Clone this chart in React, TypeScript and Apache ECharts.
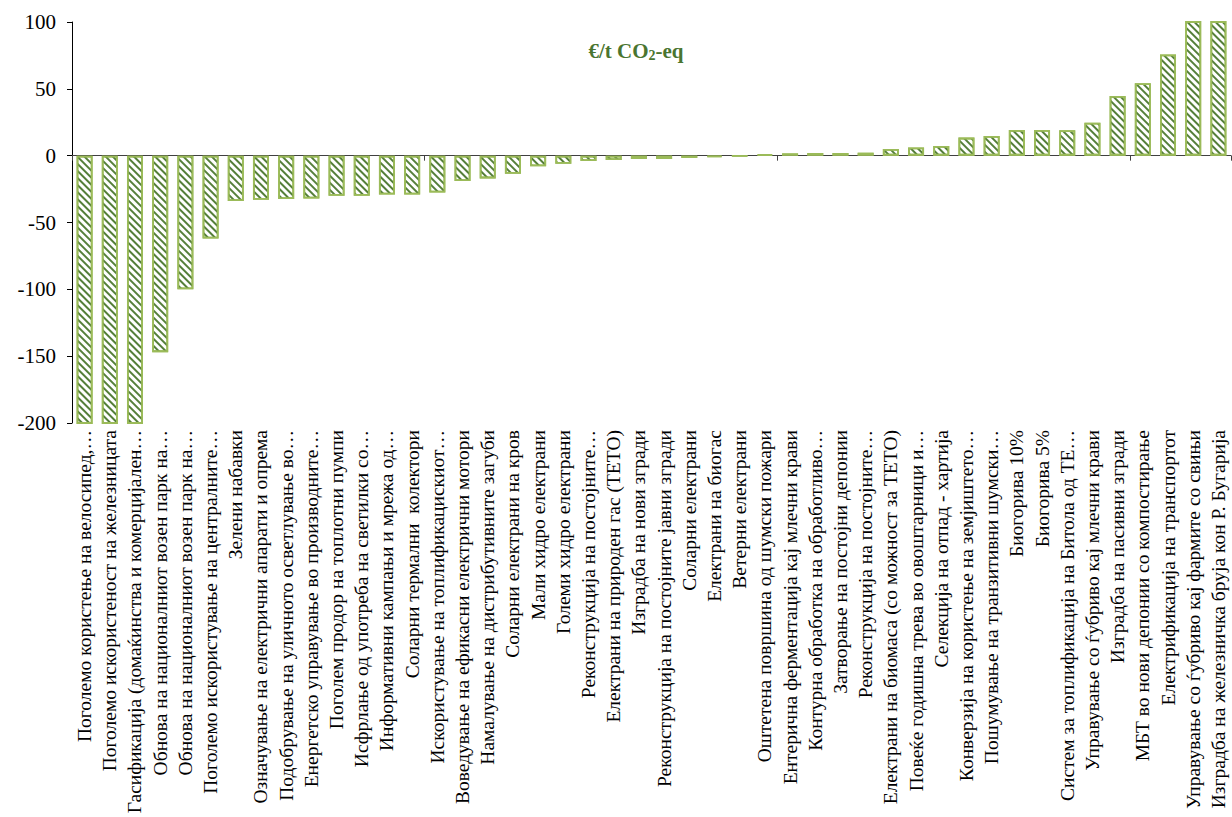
import React, { useEffect, useRef } from "react";
import * as echarts from "echarts";

const categories: string[] = [
  "Поголемо користење на велосипед,…",
  "Поголемо искористеност на железницата",
  "Гасификација (домаќинства и комерцијален…",
  "Обнова на националниот возен парк на…",
  "Обнова на националниот возен парк на…",
  "Поголемо искористување на централните…",
  "Зелени набавки",
  "Означување на електрични апарати и опрема",
  "Подобрување на уличното осветлување во…",
  "Енергетско управување во производните…",
  "Поголем продор на топлотни пумпи",
  "Исфрлање од употреба на светилки со…",
  "Информативни кампањи и мрежа од…",
  "Соларни термални  колектори",
  "Искористување на топлификацискиот…",
  "Воведување на ефикасни електрични мотори",
  "Намалување на дистрибутивните загуби",
  "Соларни електрани на кров",
  "Мали хидро електрани",
  "Големи хидро електрани",
  "Реконструкција на постојните…",
  "Електрани на природен гас (ТЕТО)",
  "Изградба на нови згради",
  "Реконструкција на постојните јавни згради",
  "Соларни електрани",
  "Електрани на биогас",
  "Ветерни електрани",
  "Оштетена површина од шумски пожари",
  "Ентерична ферментација кај млечни крави",
  "Контурна обработка на обработливо…",
  "Затворање на постојни депонии",
  "Реконструкција на постојните…",
  "Електрани на биомаса (со можност за ТЕТО)",
  "Повеќе годишна трева во овоштарници и…",
  "Селекција на отпад - хартија",
  "Конверзија на користење на земјиштето…",
  "Пошумување на транзитивни шумски…",
  "Биогорива 10%",
  "Биогорива 5%",
  "Систем за топлификација на Битола од ТЕ…",
  "Управување со ѓубриво кај млечни крави",
  "Изградба на пасивни згради",
  "МБТ во нови депонии со компостирање",
  "Електрификација на транспортот",
  "Управување со ѓубриво кај фармите со свињи",
  "Изградба на железничка бруја кон Р. Бугарија",
];

const costValues: number[] = [
  -260, -240, -220, -147, -100, -62, -34, -33, -32.5, -32, -30, -30, -29, -29,
  -27.5, -19, -17, -13.5, -8, -6, -4, -3.3, -2.5, -2.5, -1.7, -1.2, -0.3, 1,
  1.7, 2, 2, 2.2, 5, 6.2, 7.3, 13.5, 14.7, 19.2, 19.2, 19, 24.7, 44.6, 54.2,
  75.7, 120, 110,
];

const yTicks = { min: -200, max: 100, interval: 50 };

const SERIF = "'Liberation Serif', 'DejaVu Serif', serif";

export default function App() {
  const ref = useRef<HTMLDivElement>(null);
  useEffect(() => {
    if (!ref.current) return;
    const chart = echarts.init(ref.current, undefined, { renderer: "svg" });
    chart.setOption({
      animation: false,
      backgroundColor: "#fff",
      title: {
        text: "{a|€/t CO}{s|2}{a|-eq}",
        left: 631,
        top: 33,
        textAlign: "center",
        textStyle: {
          rich: {
            a: { fontFamily: SERIF, fontWeight: "bold", fontSize: 21, color: "#4A7530", lineHeight: 26 },
            s: { fontFamily: SERIF, fontWeight: "bold", fontSize: 14, color: "#4A7530", lineHeight: 26, padding: [9, 0, 0, 0] },
          },
        },
      },
      grid: { left: 72, top: 22, width: 1159, height: 401, containLabel: false },
      xAxis: [
        {
          type: "category",
          data: categories,
          position: "bottom",
          axisLine: { onZero: true, lineStyle: { color: "#404040", width: 1 } },
          axisTick: { show: true, length: 5, lineStyle: { color: "#404040" } },
          axisLabel: { show: false },
        },
        {
          type: "category",
          data: categories,
          position: "bottom",
          axisLine: { show: false, onZero: false },
          axisTick: { show: false },
          axisLabel: {
            rotate: 90,
            interval: 0,
            fontSize: 19.5,
            fontFamily: SERIF,
            color: "#000",
            margin: 7,
          },
        },
      ],
      yAxis: {
        type: "value",
        min: yTicks.min,
        max: yTicks.max,
        interval: yTicks.interval,
        axisLine: { show: true, lineStyle: { color: "#000", width: 1 } },
        axisTick: { show: true, length: 5, lineStyle: { color: "#000" } },
        splitLine: { show: false },
        axisLabel: { fontSize: 21, fontFamily: SERIF, color: "#000", margin: 16 },
      },
      series: [
        {
          type: "bar",
          data: costValues,
          xAxisIndex: 0,
          yAxisIndex: 0,
          barWidth: 16,
          clip: true,
          itemStyle: {
            color: "#fff",
            borderColor: "#9BBB59",
            borderWidth: 1.8,
            decal: {
              symbol: "rect",
              symbolSize: 1,
              color: "#557F3A",
              backgroundColor: "#fff",
              dashArrayX: [1, 0],
              dashArrayY: [1.2, 2.4],
              rotation: Math.PI / 4,
            },
          },
        },
      ],
    });
    return () => chart.dispose();
  }, []);
  return (
    <div
      ref={ref}
      style={{ position: "absolute", left: 0, top: 0, width: 1232, height: 817 }}
    />
  );
}
